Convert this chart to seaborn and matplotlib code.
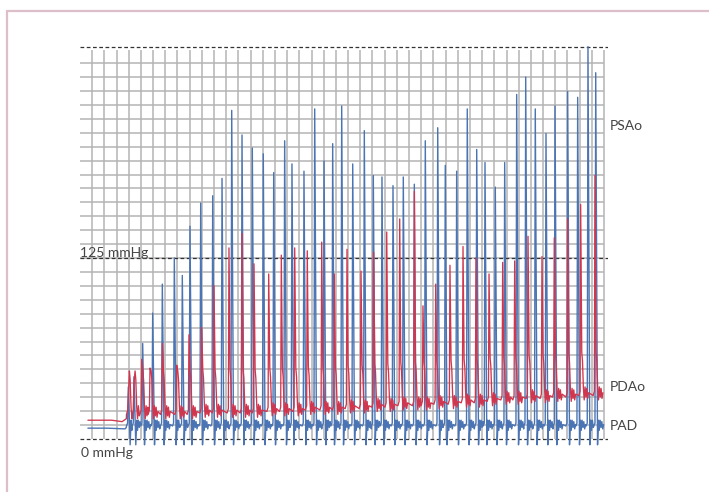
import numpy as np
import pandas as pd
import seaborn as sns
import matplotlib
matplotlib.use("Agg")
from matplotlib import pyplot as plt
from matplotlib.lines import Line2D

blue_peak_t = [0.793, 0.886, 1.029, 1.193, 1.351, 1.548, 1.679, 1.805, 1.981, 2.178,
               2.331, 2.490, 2.659, 2.828, 3.008, 3.179, 3.359, 3.479, 3.676, 3.852,
               4.005, 4.147, 4.295, 4.476, 4.666, 4.814, 4.956, 5.137, 5.306, 5.487,
               5.667, 5.871, 5.995, 6.182, 6.356, 6.511, 6.647, 6.816, 6.970, 7.167,
               7.315, 7.472, 7.648, 7.796, 8.004, 8.168, 8.337, 8.464]
blue_peak_v = [36, 43, 66, 87, 107, 125, 113, 147, 163, 168,
               180, 227, 210, 201, 197, 184, 206, 190, 185, 228,
               192, 204, 230, 190, 213, 182, 181, 175, 181, 176,
               206, 215, 189, 185, 228, 200, 191, 174, 191, 238,
               250, 228, 211, 230, 240, 236, 271, 253]
blue_floor = 9

red_peak_t = [0.793, 0.886, 1.013, 1.149, 1.351, 1.587, 1.789, 1.997, 2.199, 2.445,
              2.659, 2.856, 3.097, 3.304, 3.524, 3.730, 3.967, 4.174, 4.382, 4.612,
              4.820, 5.034, 5.247, 5.487, 5.629, 5.838, 6.072, 6.286, 6.499, 6.713,
              6.937, 7.134, 7.353, 7.582, 7.784, 8.004, 8.217, 8.452]
red_peak_v = [29, 39, 55, 49, 66, 51, 72, 77, 106, 132,
              142, 121, 114, 127, 132, 130, 136, 114, 131, 116,
              129, 143, 152, 171, 92, 107, 120, 133, 125, 114,
              122, 123, 140, 126, 139, 152, 162, 182]
red_floor = [17, 17, 17, 17, 17, 17, 17, 18, 18, 18,
             18, 18, 19, 19, 19, 20, 20, 20, 21, 21,
             22, 22, 23, 23, 23, 24, 24, 25, 25, 26,
             27, 27, 28, 28, 29, 29, 30, 30]

# flat trace before the first beat
blue_pre_t = [0.13, 0.45, 0.74, 0.76]
blue_pre_v = [7.5, 7.5, 7.0, 8.0]
red_pre_t = [0.13, 0.52, 0.69, 0.76]
red_pre_v = [13, 13, 12, 14]

# shape of one beat around its peak (offset in s, pressure above floor; None = peak)
blue_shape_dt = [-0.03, -0.012, 0, 0.03, 0.045, 0.058, 0.072, 0.087, 0.1, 0.115, 0.13]
blue_shape_dv = [0, 2, None, -13, 4, -3, 4, -1, 3, -2, 1]
red_shape_dt = [-0.03, -0.01, 0, 0.018, 0.03, 0.045, 0.058, 0.072, 0.087, 0.1, 0.115, 0.13]
red_shape_dv = [0, 3, None, 30, 24, 5, -3, 6, -1, 5, -2, 2]

labels = ["PSAo", "PDAo", "PAD"]
label_v = [216, 35.6, 9]


def build(pre_t, pre_v, peak_t, peak_v, floors, sdt, sdv):
    ts, vs = list(pre_t), list(pre_v)
    for i, (t0, p) in enumerate(zip(peak_t, peak_v)):
        f = floors[i] if isinstance(floors, list) else floors
        nxt = peak_t[i + 1] if i + 1 < len(peak_t) else 99
        for dt, dv in zip(sdt, sdv):
            if dt > 0 and t0 + dt > nxt - 0.032:
                break
            ts.append(t0 + dt)
            vs.append(p if dv is None else f + dv)
    return pd.DataFrame({"t": ts, "mmHg": vs})


blue = build(blue_pre_t, blue_pre_v, blue_peak_t, blue_peak_v, blue_floor, blue_shape_dt, blue_shape_dv)
red = build(red_pre_t, red_pre_v, red_peak_t, red_peak_v, red_floor, red_shape_dt, red_shape_dv)

sns.set_style("white")
plt.rcParams["font.family"] = ["Lato", "DejaVu Sans"]

fig = plt.figure(figsize=(7.09, 4.92), dpi=100)
ax = fig.add_axes([0.11283, 0.07236, 0.74471, 0.8593])
ax.set_xlim(0, 8.6656)
ax.set_ylim(-12, 280)
ax.set_axis_off()

# grid paper
grid_col = "#b4b4b4"
ax.hlines([k * 125 / 13 for k in range(1, 28)], 0, 8.6, color=grid_col, lw=1.1, zorder=1)
ax.vlines([0.2 * i for i in range(1, 44)], 0, 269, color=grid_col, lw=1.1, zorder=1)
for yv in [0, 125, 270.7]:
    ax.axhline(yv, color="#333333", lw=0.9, ls=(0, (3, 2)), zorder=2)

sns.lineplot(data=blue, x="t", y="mmHg", sort=False, estimator=None, color="#4a74b4", lw=1.0, ax=ax, zorder=3)
sns.lineplot(data=red, x="t", y="mmHg", sort=False, estimator=None, color="#d0364e", lw=0.95, ax=ax, zorder=4)
ax.set_axis_off()

txt = dict(color="#444444", fontsize=10)
ax.text(0.0, 126, "125 mmHg", ha="left", va="baseline", **txt)
ax.text(0.016, -12.6, "0 mmHg", ha="left", va="baseline", **txt)
for lab, v in zip(labels, label_v):
    ax.text(8.69, v, lab, ha="left", va="center", **txt)

# pink frame (top and left only)
fig.add_artist(Line2D([7 / 709, 7 / 709], [0, 1 - 11 / 492], color="#dcbfca", lw=1.6))
fig.add_artist(Line2D([7 / 709, 1], [1 - 11 / 492, 1 - 11 / 492], color="#dcbfca", lw=1.6))

fig.savefig("out.png", dpi=100)
